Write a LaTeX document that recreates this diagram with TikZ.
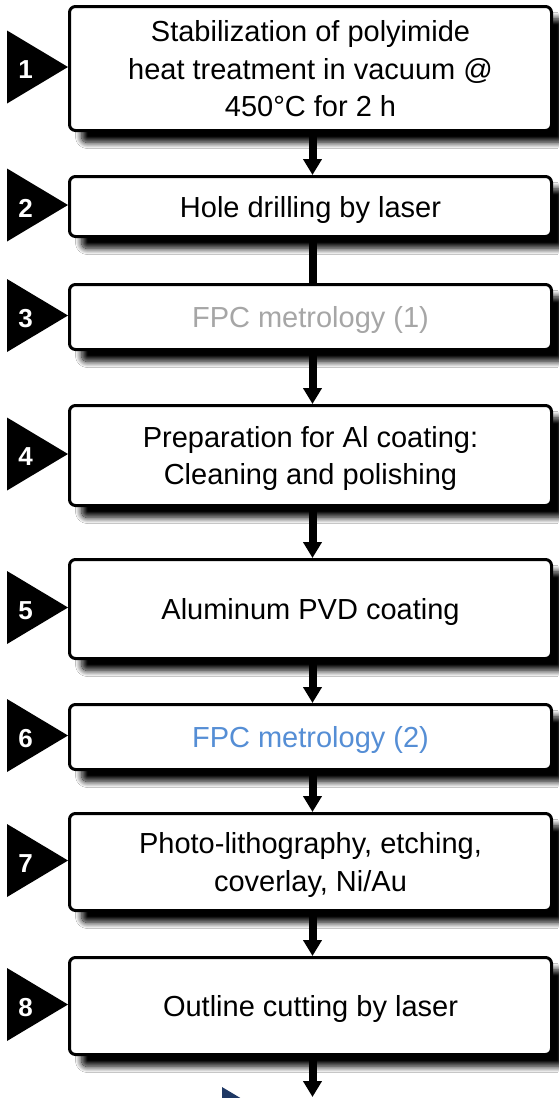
\documentclass[tikz,border=0pt]{standalone}
\usepackage{fontspec}
\setmainfont{Liberation Sans}
\usetikzlibrary{arrows.meta,shadows.blur}
\definecolor{grayTxt}{HTML}{A6A6A6}
\definecolor{blueTxt}{HTML}{558ED5}
\definecolor{navyMark}{HTML}{1F3864}
\tikzset{
  stepbox/.style={draw=black, line width=3pt, rounded corners=6pt, fill=white,
    align=center, font=\fontsize{29}{37.5}\selectfont, inner sep=0pt,
    text depth=0pt, minimum width=482pt,
    blur shadow={shadow xshift=12pt, shadow yshift=-12pt, shadow blur radius=6pt,
      shadow opacity=100, shadow blur steps=14}},
  numlbl/.style={text=white, font=\fontsize{26}{26}\selectfont\bfseries, inner sep=0pt},
  conn/.style={line width=8pt, -{Triangle[width=18pt,length=16pt]}},
  link/.style={line width=8pt},
  marker/.style={fill=black}
}
\begin{document}
\begin{tikzpicture}[x=1pt,y=-1pt]
\useasboundingbox (0,0) rectangle (558,1098);
\fill[white] (0,0) rectangle (558,1098);

\node[stepbox, minimum height=124pt] (b1) at (310.5,68.5)
  {Stabilization of polyimide\\heat treatment in vacuum @\\450°C for 2 h};
\node[stepbox, minimum height=60pt] (b2) at (310.5,206.5) {Hole drilling by laser};
\node[stepbox, minimum height=65pt, text=grayTxt] (b3) at (310.5,317) {FPC metrology (1)};
\node[stepbox, minimum height=100pt] (b4) at (310.5,455.5)
  {Preparation for Al coating:\\Cleaning and polishing};
\node[stepbox, minimum height=99pt] (b5) at (310.5,609) {Aluminum PVD coating};
\node[stepbox, minimum height=65pt, text=blueTxt] (b6) at (310.5,737) {FPC metrology (2)};
\node[stepbox, minimum height=97pt] (b7) at (310.5,862)
  {Photo-lithography, etching,\\coverlay, Ni/Au};
\node[stepbox, minimum height=97pt] (b8) at (310.5,1006) {Outline cutting by laser};

\foreach \b/\n in {b1/1,b2/2,b3/3,b4/4,b5/5,b6/6,b7/7,b8/8}{
  \fill[marker] ([yshift=1.5pt]\b.west) -- ++(-61,-36.5) -- ++(0,73) -- cycle;
  \node[numlbl] (n\n) at ([xshift=-42.5pt,yshift=-1.5pt]\b.west) {\n};
}

\coordinate (end) at (312.5,1097);
\draw[conn] ([xshift=2pt]b1.south) -- ([xshift=2pt]b2.north);
\draw[link] ([xshift=2pt]b2.south) -- ([xshift=2pt]b3.north);
\draw[conn] ([xshift=2pt]b3.south) -- ([xshift=2pt]b4.north);
\draw[conn] ([xshift=2pt]b4.south) -- ([xshift=2pt]b5.north);
\draw[conn] ([xshift=2pt]b5.south) -- ([xshift=2pt]b6.north);
\draw[conn] ([xshift=2pt]b6.south) -- ([xshift=2pt]b7.north);
\draw[conn] ([xshift=2pt]b7.south) -- ([xshift=2pt]b8.north);
\draw[conn] ([xshift=2pt]b8.south) -- (end);

\begin{scope}
  \clip (0,0) rectangle (558,1098);
  \fill[navyMark] (222,1087) -- (283,1123.5) -- (222,1160) -- cycle;
\end{scope}
\end{tikzpicture}
\end{document}
